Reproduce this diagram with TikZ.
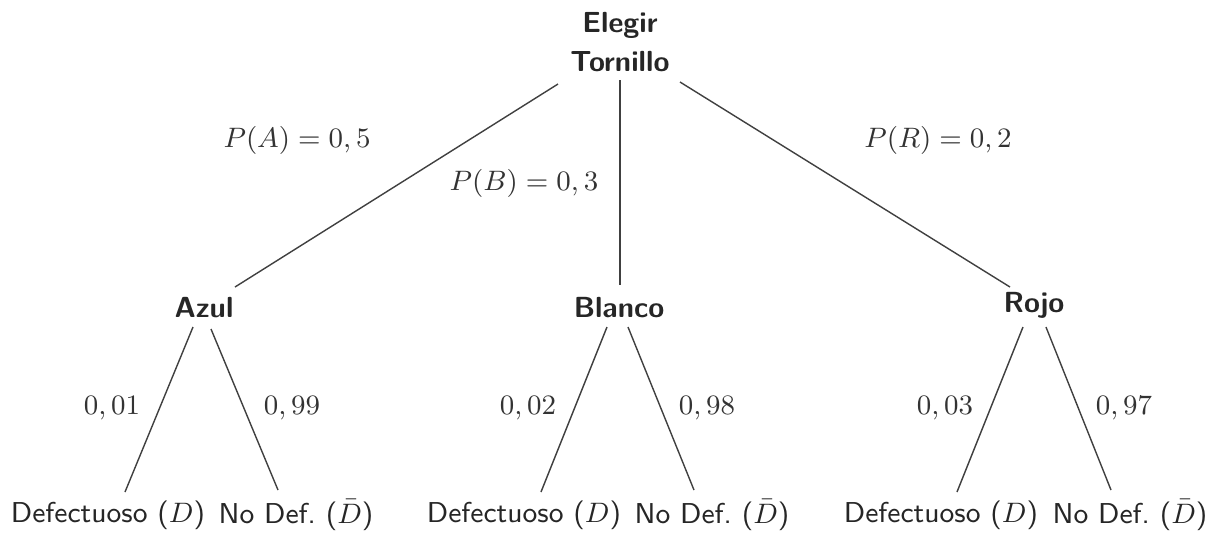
\documentclass[tikz,border=0pt]{standalone}
\usetikzlibrary{calc}
\begin{document}
\begin{tikzpicture}[x=0.32pt,y=-0.32pt,
  branch/.style={draw=black!75, line width=0.45pt},
  inner/.style={font=\sffamily\bfseries\fontsize{9.3}{12.5}\selectfont, text=black!85, inner sep=0pt, align=center},
  leaf/.style={font=\sffamily\fontsize{9.2}{11}\selectfont, text=black!85, inner sep=0pt},
  prob/.style={font=\fontsize{9.1}{11}\selectfont, text=black!80, inner sep=0pt}]
\useasboundingbox (0,0) rectangle (1216,534);
\node[inner] (root) at (620,42) {Elegir\\Tornillo};
\node[inner] (azul) at (204,308) {Azul};
\node[inner] (blanco) at (619,308) {Blanco};
\node[inner] (rojo) at (1034,305) {Rojo};
\node[leaf] (d1) at (108,515) {Defectuoso ($D$)};
\node[leaf] (n1) at (296,515) {No Def.\ ($\bar{D}$)};
\node[leaf] (d2) at (524,515) {Defectuoso ($D$)};
\node[leaf] (n2) at (712,515) {No Def.\ ($\bar{D}$)};
\node[leaf] (d3) at (941,515) {Defectuoso ($D$)};
\node[leaf] (n3) at (1130,515) {No Def.\ ($\bar{D}$)};
\draw[branch] ($(root)+(-62,42)$) -- ($(azul)+(31,-21)$);
\draw[branch] ($(root)+(0,38)$) -- ($(blanco)+(1,-23)$);
\draw[branch] ($(root)+(60,40)$) -- ($(rojo)+(-24,-18)$);
\draw[branch] ($(azul)+(-11,19)$) -- ($(d1)+(17,-23)$);
\draw[branch] ($(azul)+(7,21)$) -- ($(n1)+(-18,-25)$);
\draw[branch] ($(blanco)+(-12,19)$) -- ($(d2)+(17,-23)$);
\draw[branch] ($(blanco)+(9,19)$) -- ($(n2)+(-18,-25)$);
\draw[branch] ($(rojo)+(-11,22)$) -- ($(d3)+(16,-23)$);
\draw[branch] ($(rojo)+(12,22)$) -- ($(n3)+(-19,-25)$);
\node[prob] (pa) at (297,140) {$P(A)=0,5$};
\node[prob] (pb) at (524,183) {$P(B)=0,3$};
\node[prob] (pr) at (938,140) {$P(R)=0,2$};
\node[prob] (l1) at (112,408) {$0,01$};
\node[prob] (l2) at (292,408) {$0,99$};
\node[prob] (l3) at (528,408) {$0,02$};
\node[prob] (l4) at (707,408) {$0,98$};
\node[prob] (l5) at (945,408) {$0,03$};
\node[prob] (l6) at (1124,408) {$0,97$};
\end{tikzpicture}
\end{document}
